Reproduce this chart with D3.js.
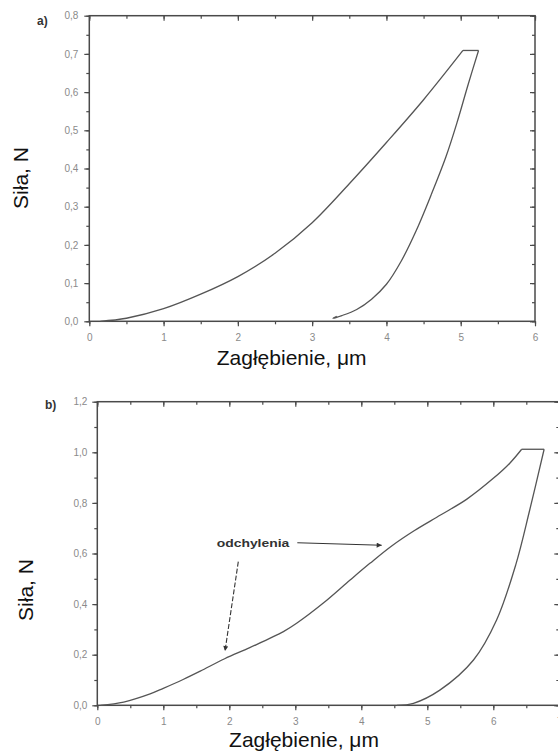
<!DOCTYPE html>
<html>
<head>
<meta charset="utf-8">
<script src="https://cdn.jsdelivr.net/npm/d3@7"></script>
<style>
html,body{margin:0;padding:0;background:#fff;}
svg{display:block;}
</style>
</head>
<body>
<svg id="chart" width="558" height="753"></svg>
<script>
// ---------- DATA ----------
// Panel a)
const aXTicks = [0, 1, 2, 3, 4, 5, 6];
const aYTicks = [0, 0.1, 0.2, 0.3, 0.4, 0.5, 0.6, 0.7, 0.8];
const aLoading = [[0.15,0],[0.5,0.008],[1.0,0.033],[1.5,0.071],[2.0,0.117],[2.5,0.178],[3.0,0.258],[3.5,0.36],[4.0,0.468],[4.5,0.58],[5.03,0.709]];
const aHold = [[5.03,0.709],[5.24,0.709]];
const aUnloading = [[5.24,0.709],[5.1,0.62],[4.95,0.52],[4.8,0.43],[4.6,0.33],[4.4,0.237],[4.2,0.158],[4.0,0.097],[3.8,0.058],[3.6,0.031],[3.4,0.015],[3.28,0.008],[3.33,0.013]];
// Panel b)
const bXTicks = [0, 1, 2, 3, 4, 5, 6, 7];
const bYTicks = [0, 0.2, 0.4, 0.6, 0.8, 1.0, 1.2];
const bLoading = [[0.05,0],[0.4,0.013],[0.8,0.045],[1.0,0.067],[1.3,0.102],[1.56,0.135],[1.93,0.184],[2.31,0.228],[2.82,0.291],[3.02,0.324],[3.42,0.403],[3.83,0.495],[4.13,0.561],[4.45,0.628],[4.8,0.69],[5.2,0.752],[5.6,0.815],[6.0,0.897],[6.25,0.957],[6.43,1.012]];
const bHold = [[6.43,1.012],[6.77,1.012]];
const bUnloading = [[6.77,1.012],[6.55,0.77],[6.34,0.555],[6.05,0.337],[5.70,0.179],[5.19,0.060],[4.79,0.008],[4.54,0]];
const annText = "odchylenia";
const xTitle = "Zagłębienie, \u03bcm";
const yTitle = "Siła, N";

// ---------- DRAW ----------
const svg = d3.select("#chart");
const axisColor = "#4a4a4a";
const curveColor = "#555";
const tickLabelColor = "#8a8a8a";
const fmt = v => d3.format(".1f")(v).replace(".", ",");

const defs = svg.append("defs");
defs.append("marker").attr("id","arr").attr("viewBox","0 0 10 10")
  .attr("refX",10).attr("refY",5).attr("markerWidth",7).attr("markerHeight",5)
  .attr("orient","auto").attr("markerUnits","userSpaceOnUse")
  .append("path").attr("d","M0,0L10,5L0,10Z").attr("fill","#333");

function panel(cfg){
  const g = svg.append("g");
  const x = d3.scaleLinear().domain(cfg.xDom).range(cfg.xRange);
  const y = d3.scaleLinear().domain(cfg.yDom).range(cfg.yRange);
  const x0 = cfg.xRange[0], x1 = cfg.xRange[1], y0 = cfg.yRange[0], y1 = cfg.yRange[1];
  const minorX = d3.range(cfg.xDom[0], cfg.xDom[1] + 1e-9, cfg.xMinor);
  const minorY = d3.range(cfg.yDom[0], cfg.yDom[1] + 1e-9, cfg.yMinor);

  function style(sel){
    sel.select(".domain").remove();
    sel.selectAll("line").attr("stroke", axisColor).attr("stroke-width", 1.2);
    sel.selectAll("text").attr("fill", tickLabelColor)
      .attr("font-family","Liberation Sans, Arial, sans-serif").attr("font-size", 10);
  }
  // bottom
  g.append("g").attr("transform",`translate(0,${y0})`)
    .call(d3.axisBottom(x).tickValues(minorX).tickSize(3).tickFormat("")).call(style);
  g.append("g").attr("transform",`translate(0,${y0})`)
    .call(d3.axisBottom(x).tickValues(cfg.xTicks).tickSize(5).tickPadding(8).tickFormat(d3.format("d"))).call(style);
  // left
  g.append("g").attr("transform",`translate(${x0},0)`)
    .call(d3.axisLeft(y).tickValues(minorY).tickSize(3).tickFormat("")).call(style);
  g.append("g").attr("transform",`translate(${x0},0)`)
    .call(d3.axisLeft(y).tickValues(cfg.yTicks).tickSize(5).tickPadding(cfg.yPad).tickFormat(fmt)).call(style);
  // top (inward)
  g.append("g").attr("transform",`translate(0,${y1})`)
    .call(d3.axisTop(x).tickValues(minorX).tickSize(-3).tickFormat("")).call(style);
  g.append("g").attr("transform",`translate(0,${y1})`)
    .call(d3.axisTop(x).tickValues(cfg.xTicks).tickSize(-5).tickFormat("")).call(style);
  // right (inward)
  g.append("g").attr("transform",`translate(${x1},0)`)
    .call(d3.axisRight(y).tickValues(minorY).tickSize(-3).tickFormat("")).call(style);
  g.append("g").attr("transform",`translate(${x1},0)`)
    .call(d3.axisRight(y).tickValues(cfg.yTicks).tickSize(-5).tickFormat("")).call(style);
  // frame
  g.append("rect").attr("x",x0).attr("y",y1).attr("width",x1-x0).attr("height",y0-y1)
    .attr("fill","none").attr("stroke",axisColor).attr("stroke-width",1.5);

  const smooth = d3.line().x(d=>x(d[0])).y(d=>y(d[1])).curve(d3.curveCatmullRom.alpha(0.5));
  const straight = d3.line().x(d=>x(d[0])).y(d=>y(d[1]));
  [[cfg.loading, smooth],[cfg.hold, straight],[cfg.unloading, smooth]].forEach(([data, gen])=>{
    g.append("path").datum(data).attr("d", gen).attr("fill","none")
      .attr("stroke", curveColor).attr("stroke-width", 1.3).attr("stroke-linejoin","round");
  });

  // panel letter
  g.append("text").attr("x", cfg.letterPos[0]).attr("y", cfg.letterPos[1]).text(cfg.letter)
    .attr("font-family","Liberation Sans, Arial, sans-serif").attr("font-size", 12)
    .attr("font-weight","bold").attr("fill","#333");
  // titles
  g.append("text").attr("x", cfg.xTitlePos[0]).attr("y", cfg.xTitlePos[1]).attr("text-anchor","middle")
    .text(xTitle).attr("font-family","Liberation Sans, Arial, sans-serif").attr("font-size", 21).attr("fill","#111");
  g.append("text").attr("transform",`translate(${cfg.yTitlePos[0]},${cfg.yTitlePos[1]}) rotate(-90)`)
    .attr("text-anchor","middle")
    .text(yTitle).attr("font-family","Liberation Sans, Arial, sans-serif").attr("font-size", 21).attr("fill","#111");
  return {x, y, g};
}

panel({
  xDom:[0,6], yDom:[0,0.8], xRange:[89.3,535], yRange:[321.3,15.7],
  xTicks:aXTicks, yTicks:aYTicks, xMinor:0.5, yMinor:0.05, yPad:6,
  loading:aLoading, hold:aHold, unloading:aUnloading,
  letter:"a)", letterPos:[37,25], xTitlePos:[291.7,365], yTitlePos:[28,178]
});

const pb = panel({
  xDom:[0,7], yDom:[0,1.2], xRange:[97.3,559.3], yRange:[705.3,401.7],
  xTicks:bXTicks, yTicks:bYTicks, xMinor:0.5, yMinor:0.1, yPad:5,
  loading:bLoading, hold:bHold, unloading:bUnloading,
  letter:"b)", letterPos:[45,409], xTitlePos:[304,747], yTitlePos:[33,590]
});

// annotation in panel b
const ag = pb.g;
ag.append("text").attr("x",216.7).attr("y",547.3).text(annText)
  .attr("font-family","Liberation Sans, Arial, sans-serif").attr("font-weight","bold")
  .attr("font-size",11).attr("textLength",72.6).attr("lengthAdjust","spacingAndGlyphs").attr("fill","#333");
ag.append("line").attr("x1",297.3).attr("y1",542.7).attr("x2",381.7).attr("y2",545.3)
  .attr("stroke","#333").attr("stroke-width",1.1).attr("marker-end","url(#arr)");
ag.append("line").attr("x1",238.3).attr("y1",561.7).attr("x2",225).attr("y2",651)
  .attr("stroke","#333").attr("stroke-width",1.1).attr("stroke-dasharray","5,2").attr("marker-end","url(#arr)");
</script>
</body>
</html>
